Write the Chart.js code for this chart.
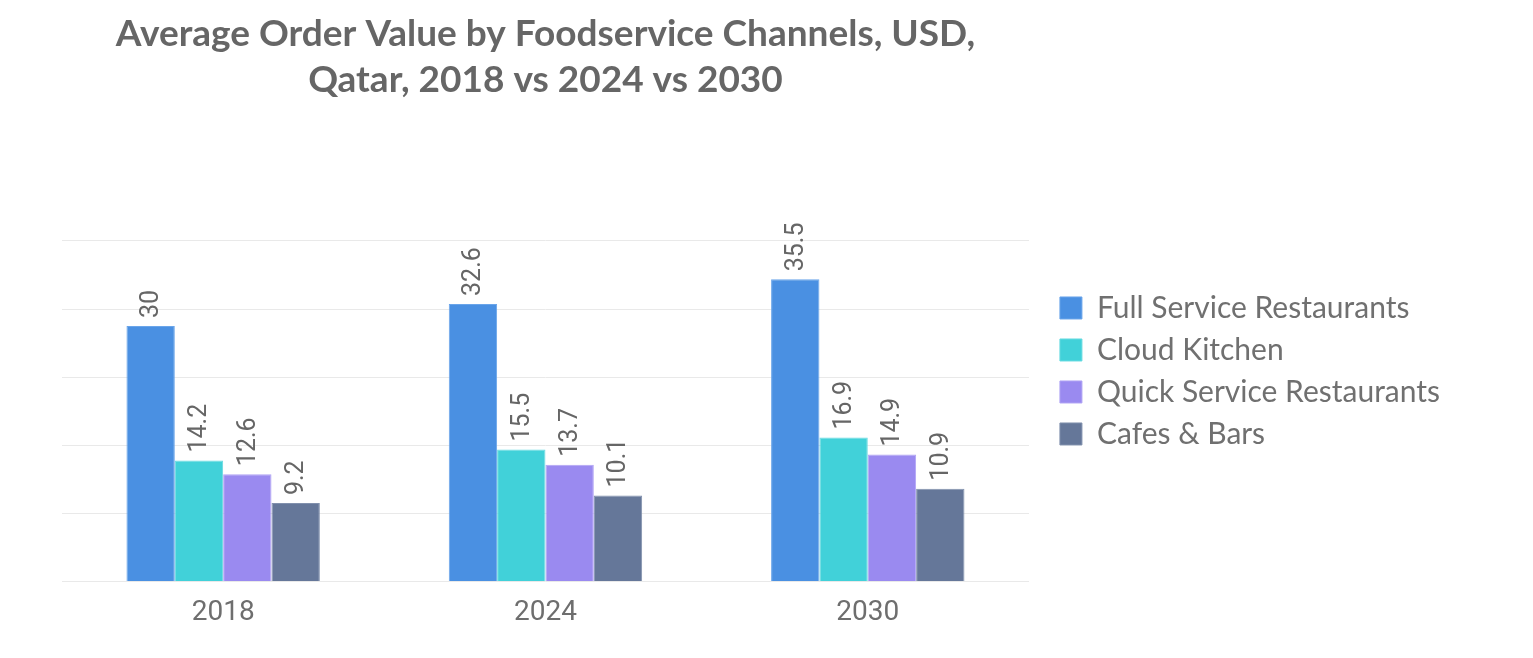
<!DOCTYPE html>
<html>
<head>
<meta charset="utf-8">
<title>Average Order Value by Foodservice Channels</title>
<script src="https://cdn.jsdelivr.net/npm/chart.js@4.4.1/dist/chart.umd.min.js"></script>
<style>
  html, body { margin: 0; padding: 0; background: #fff; }
  #wrap { width: 1533px; height: 658px; }
</style>
</head>
<body>
<div id="wrap"><canvas id="aovChart"></canvas></div>
<script>
const years = ['2018', '2024', '2030'];
const channels = ['Full Service Restaurants', 'Cloud Kitchen', 'Quick Service Restaurants', 'Cafes & Bars'];
const fullService = [30, 32.6, 35.5];
const cloudKitchen = [14.2, 15.5, 16.9];
const quickService = [12.6, 13.7, 14.9];
const cafesBars = [9.2, 10.1, 10.9];
const yTicks = [0, 8, 16, 24, 32, 40];

const fills = ['#4a90e2', '#41d1d9', '#9a8af0', '#657799'];
const edges = ['#6aa5ea', '#67dbe1', '#b0a3f4', '#8190ad'];

// valores desenhados em pe, acima de cada barra
const barValues = {
    id: 'barValues',
    afterDatasetsDraw(chart) {
        const ctx = chart.ctx;
        ctx.save();
        ctx.font = '25px Roboto';
        ctx.fillStyle = '#666666';
        ctx.textAlign = 'left';
        ctx.textBaseline = 'middle';
        chart.data.datasets.forEach((ds, i) => {
            chart.getDatasetMeta(i).data.forEach((bar, j) => {
                ctx.save();
                ctx.translate(bar.x, bar.y - 8);
                ctx.rotate(-Math.PI / 2);
                ctx.fillText(String(ds.data[j]), 0, 1);
                ctx.restore();
            });
        });
        ctx.restore();
    }
};

const series = [fullService, cloudKitchen, quickService, cafesBars];

new Chart(document.getElementById('aovChart'), {
    type: 'bar',
    data: {
        labels: years,
        datasets: series.map((values, i) => ({
            label: channels[i],
            data: values,
            backgroundColor: fills[i],
            borderColor: edges[i],
            borderWidth: 1,
            categoryPercentage: 0.6,
            barPercentage: 1
        }))
    },
    options: {
        responsive: true,
        maintainAspectRatio: false,
        animation: false,
        layout: { padding: { left: 62, right: 83, top: 0, bottom: 21 } },
        scales: {
            x: {
                grid: { display: false },
                border: { display: false },
                ticks: { color: '#6e6e6e', font: { family: 'Roboto', size: 28 }, padding: 7 }
            },
            y: {
                position: 'right',
                min: 0,
                max: yTicks[yTicks.length - 1],
                afterBuildTicks(scale) { scale.ticks = yTicks.map(v => ({ value: v })); },
                afterFit(scale) { scale.width = 19; },
                grid: { color: '#e9e9e9', drawTicks: false },
                border: { display: false },
                ticks: { display: false }
            }
        },
        plugins: {
            tooltip: { enabled: false },
            title: {
                display: true,
                fullSize: false,
                text: ['Average Order Value by Foodservice Channels, USD,', 'Qatar, 2018 vs 2024 vs 2030'],
                color: '#666666',
                font: { family: 'Lato', size: 37, weight: 'bold', lineHeight: 1.243 },
                padding: { top: 11.5, bottom: 137.5 }
            },
            legend: {
                position: 'right',
                fullSize: false,
                align: 'start',
                maxWidth: 440,
                title: { display: true, text: '', font: { size: 12, lineHeight: 1.2 }, padding: { top: 25.6, bottom: 0 } },
                labels: {
                    boxWidth: 22,
                    boxHeight: 22,
                    padding: 12,
                    color: '#707070',
                    font: { family: 'Lato', size: 30 }
                }
            }
        }
    },
    plugins: [barValues]
});
</script>
</body>
</html>
